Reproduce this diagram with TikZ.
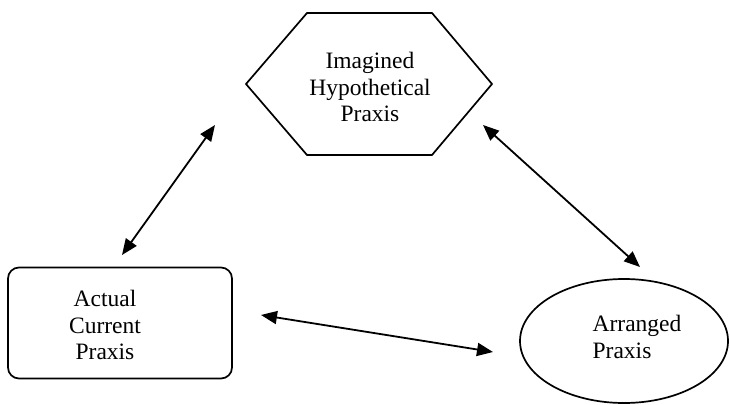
\documentclass[tikz,border=0pt]{standalone}
\usepackage{fontspec}
\setmainfont{Liberation Serif}
\usetikzlibrary{arrows.meta,shapes.geometric}

\tikzset{
  outline/.style={draw, line width=1.7pt},
  praxis/.style={font=\fontsize{23.5}{26.5}\selectfont, align=center, inner sep=0pt},
  link/.style={{Triangle[length=16pt,width=13pt]}-{Triangle[length=16pt,width=13pt]}, line width=1.8pt},
}

\begin{document}
\begin{tikzpicture}[x=1pt,y=-1pt]
        \useasboundingbox (0,0) rectangle (730,404);
        \node[outline, rounded corners=11pt, minimum width=224pt, minimum height=111pt] (act) at (120,323) {};
        \node[outline, ellipse, inner sep=0pt, minimum width=208pt, minimum height=124pt] (arr) at (624,341) {};
        \coordinate (hyp) at (369,84);
        \draw[outline, line join=miter] ([shift={(-123,0)}]hyp) -- ([shift={(-62,-71)}]hyp) -- ([shift={(63,-71)}]hyp)
            -- ([shift={(123,0)}]hyp) -- ([shift={(63,71)}]hyp) -- ([shift={(-62,71)}]hyp) -- cycle;
        \node[praxis] (hyptext) at (370,87) {Imagined\\Hypothetical\\Praxis};
        \node[praxis] (acttext) at (105,325) {Actual\\Current\\Praxis};
        \node[praxis, align=left] (arrtext) at (637,337) {Arranged\\Praxis};
        \coordinate (acttop) at (122,255);
        \coordinate (hypleft) at (215,125);
        \coordinate (hypright) at (483,125);
        \coordinate (arrtop) at (640,267);
        \coordinate (actright) at (261,315);
        \coordinate (arrleft) at (493,352);
        \foreach \a/\b in {acttop/hypleft, hypright/arrtop, actright/arrleft} {
            \draw[link] (\a) -- (\b);
        }
    \end{tikzpicture}
\end{document}
